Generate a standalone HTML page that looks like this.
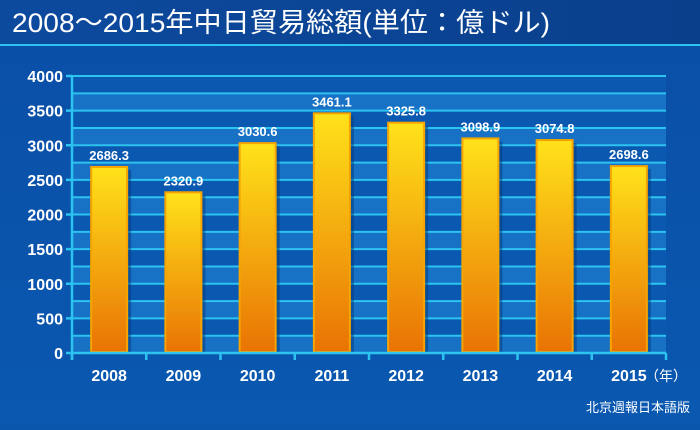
<!DOCTYPE html>
<html><head><meta charset="utf-8"><style>
body{margin:0;width:700px;height:425px;overflow:hidden;background:#0a56ad;font-family:"Liberation Sans","Noto Sans CJK JP",sans-serif}
</style></head><body>
<svg width="700" height="425" xmlns="http://www.w3.org/2000/svg">
<defs>
<linearGradient id="bg" x1="0" y1="0" x2="0" y2="1"><stop offset="0" stop-color="#0a4ea6"/><stop offset="1" stop-color="#0a58b0"/></linearGradient>
<linearGradient id="tb" x1="0" y1="0" x2="1" y2="0"><stop offset="0" stop-color="#0c4a9e"/><stop offset="1" stop-color="#0a3f8c"/></linearGradient>
<linearGradient id="bar" x1="0" y1="0" x2="0" y2="1"><stop offset="0" stop-color="#ffe21a"/><stop offset="1" stop-color="#e97304"/></linearGradient>
</defs>
<rect width="700" height="425" fill="url(#bg)"/>
<rect width="700" height="44" fill="url(#tb)"/>
<rect y="44" width="700" height="2" fill="#2cc3f0"/>
<text x="12" y="32" font-size="27" fill="#fff" textLength="538" lengthAdjust="spacingAndGlyphs">2008～2015年中日貿易総額(単位：億ドル)</text>
<g id="plot"></g>
<text x="690" y="412" font-size="13" fill="#fff" text-anchor="end">北京週報日本語版</text>
</svg>
<script>
const categories=["2008","2009","2010","2011","2012","2013","2014","2015"];
const values=[2686.3,2320.9,3030.6,3461.1,3325.8,3098.9,3074.8,2698.6];
const valueLabels=["2686.3","2320.9","3030.6","3461.1","3325.8","3098.9","3074.8","2698.6"];
const yTicks=[0,500,1000,1500,2000,2500,3000,3500,4000];
const NS="http://www.w3.org/2000/svg";
const g=document.getElementById('plot');
const x0=72,x1=666,yB=353,yT=76,yMax=4000;
const y=v=>yB-(v/yMax)*(yB-yT);
const cw=(x1-x0)/categories.length;
const xc=i=>x0+cw*i+cw/2;
function mk(t,a,p){const e=document.createElementNS(NS,t);for(const k in a)e.setAttribute(k,a[k]);(p||g).appendChild(e);return e;}
for(let v=0;v<yMax;v+=250){
 const r=mk('rect',{x:x0,y:y(v+250),width:x1-x0,height:y(v)-y(v+250),fill:(v%500===0)?'#1771c4':'#0a58b0'});
 
 
}
for(let v=250;v<=yMax;v+=250){
 const l=mk('line',{x1:x0,x2:x1,y1:y(v),y2:y(v),stroke:'#2cc3f0','stroke-width':2});
 
 
}
categories.forEach((c,i)=>{
 const bx=xc(i)-18;
 mk('rect',{x:bx+4,y:y(values[i])+3,width:36,height:yB-y(values[i])-3,fill:'#063a7a',opacity:0.5});
 const b=mk('rect',{x:bx,y:y(values[i]),width:36,height:yB-y(values[i])-1,fill:'url(#bar)',stroke:'#f7a400','stroke-width':2});
 
 
 const t=mk('text',{x:xc(i),y:y(values[i])-7,'text-anchor':'middle','font-size':13,'font-weight':'bold',fill:'#fff'});
 t.textContent=valueLabels[i];
 
 
 const xl=mk('text',{x:xc(i),y:381,'text-anchor':'middle','font-size':16,'font-weight':'bold',fill:'#fff'});
 xl.textContent=c;
 
 
});
for(let i=0;i<=categories.length;i++){
 const tk=mk('line',{x1:x0+cw*i,x2:x0+cw*i,y1:yB,y2:yB+7,stroke:'#2cc3f0','stroke-width':2.5});
 
 
}
yTicks.forEach(v=>{
 mk('line',{x1:x0-6,x2:x0,y1:y(v),y2:y(v),stroke:'#2cc3f0','stroke-width':2.5});
 const t=mk('text',{x:x0-9,y:y(v)+6,'text-anchor':'end','font-size':16,'font-weight':'bold',fill:'#fff'});
 t.textContent=v;
 
 
});
const ax=mk('line',{x1:x0,x2:x0,y1:yT,y2:yB+7,stroke:'#2cc3f0','stroke-width':2.5});


const axx=mk('line',{x1:x0,x2:x1,y1:yB,y2:yB,stroke:'#2cc3f0','stroke-width':2.5});


const u=mk('text',{x:645,y:381,'font-size':14,fill:'#fff'});
u.textContent='（年）';


</script>
</body></html>
